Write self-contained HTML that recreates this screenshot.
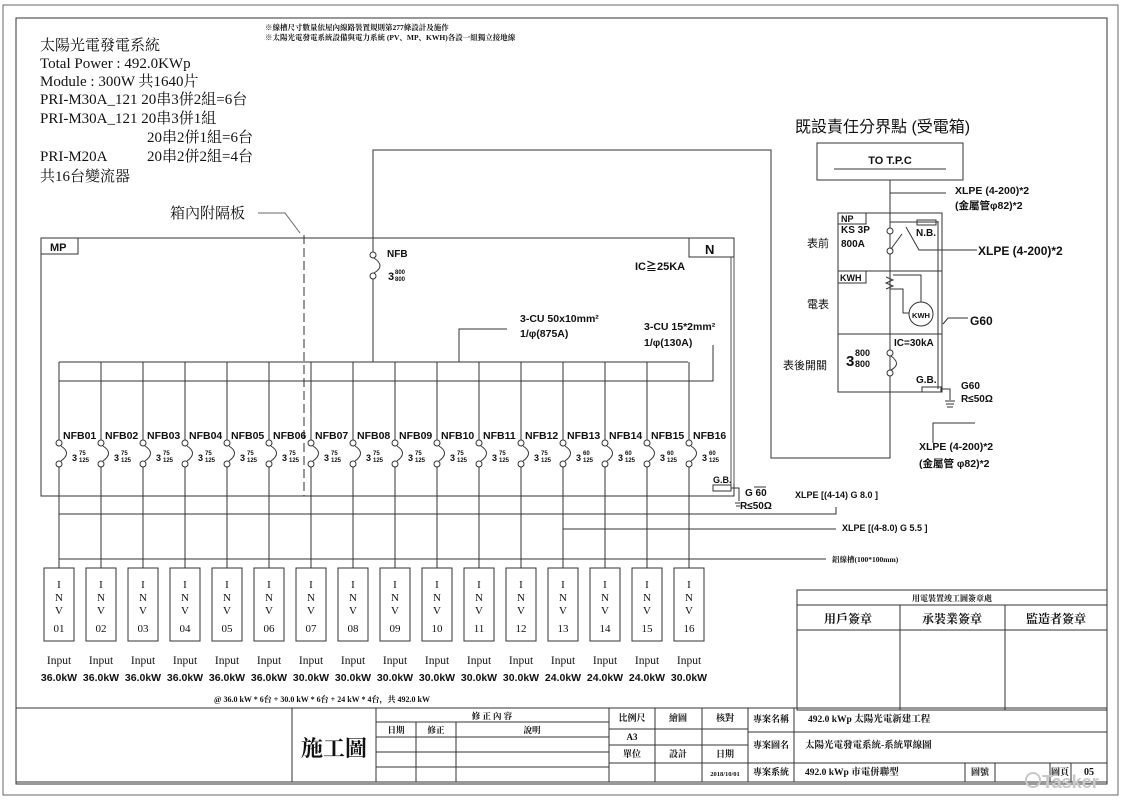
<!DOCTYPE html>
<html><head><meta charset="utf-8"><style>
html,body{margin:0;padding:0;background:#fff;}
svg{display:block;}
text{font-family:"Liberation Sans","Noto Sans CJK TC",sans-serif;fill:#111;}
.s{font-family:"Liberation Serif","Noto Serif CJK SC",serif;}
.m{font-family:"Liberation Serif","Noto Serif CJK SC",serif;font-weight:bold;}
</style></head><body>
<svg width="1121" height="800" viewBox="0 0 1121 800" xmlns="http://www.w3.org/2000/svg" stroke="#333" fill="none" stroke-width="1">
<rect x="3" y="5" width="1115" height="790" stroke="#666"/>
<rect x="16" y="18" width="1091" height="766" stroke="#333"/>

<g stroke="none">
<text class="m" x="265" y="30" font-size="7.5">※線槽尺寸數量依屋內線路裝置規則第277條設計及施作</text>
<text class="m" x="265" y="40" font-size="7.5">※太陽光電發電系統設備與電力系統 (PV、MP、KWH)各設一組獨立接地線</text>
<text class="s" x="40" y="50" font-size="15">太陽光電發電系統</text>
<text class="s" x="40" y="68" font-size="15">Total Power : 492.0KWp</text>
<text class="s" x="40" y="86" font-size="15">Module : 300W 共1640片</text>
<text class="s" x="40" y="104" font-size="15">PRI-M30A_121  20串3併2組=6台</text>
<text class="s" x="40" y="123" font-size="15">PRI-M30A_121  20串3併1組</text>
<text class="s" x="147" y="142" font-size="15">20串2併1組=6台</text>
<text class="s" x="40" y="161" font-size="15">PRI-M20A</text>
<text class="s" x="147" y="161" font-size="15">20串2併2組=4台</text>
<text class="s" x="40" y="181" font-size="15">共16台變流器</text>
<text class="s" x="170" y="218" font-size="15">箱內附隔板</text>
</g>
<path d="M258 213 H285 L300 233" stroke="#666"/>

<rect x="41" y="238" width="693" height="258"/>
<rect x="41" y="238" width="37" height="16"/>
<text x="50" y="251" font-size="11" font-weight="bold" stroke="none">MP</text>
<rect x="689" y="238" width="45" height="19"/>
<text x="705" y="254" font-size="13" font-weight="bold" stroke="none">N</text>
<text x="635" y="270" font-size="11" font-weight="bold" stroke="none">IC≧25KA</text>
<line x1="304" y1="235" x2="304" y2="496" stroke-dasharray="9,4"/>

<path d="M373 362 V276 M373 257 V150 H771 V458 H890 V180"/>
<circle cx="373" cy="255" r="3" fill="#fff"/><circle cx="373" cy="276" r="3" fill="#fff"/>
<path d="M374 258 Q386 266 374 273"/>
<text x="387" y="257" font-size="10" font-weight="bold" stroke="none">NFB</text>
<text x="388" y="280" font-size="11" font-weight="bold" stroke="none">3</text>
<text x="395" y="274" font-size="6" font-weight="bold" stroke="none">800</text>
<text x="395" y="281" font-size="6" font-weight="bold" stroke="none">800</text>

<line x1="59" y1="362" x2="688" y2="362"/>
<path d="M59 381 H713 V345"/>
<path d="M459 362 V329 H507"/>
<text x="520" y="322" font-size="10.5" font-weight="bold" stroke="none">3-CU 50x10mm²</text>
<text x="520" y="337" font-size="10.5" font-weight="bold" stroke="none">1/φ(875A)</text>
<text x="644" y="330" font-size="10.5" font-weight="bold" stroke="none">3-CU 15*2mm²</text>
<text x="644" y="346" font-size="10.5" font-weight="bold" stroke="none">1/φ(130A)</text>
<path d="M731 257 V486 M734 257 V484" stroke="#555"/>

<rect x="713" y="485" width="18" height="6"/>
<text x="713" y="483" font-size="9" font-weight="bold" stroke="none">G.B.</text>
<path d="M731 488 H739 V501"/>
<path d="M735 503 H740 M736 506 H740" />
<text x="745" y="496" font-size="10" font-weight="bold" stroke="none">G 60</text>
<line x1="754" y1="487" x2="766" y2="487"/>
<text x="740" y="509" font-size="10" font-weight="bold" stroke="none">R≤50Ω</text>

<path d="M59 514 H836 V507"/>
<path d="M563 529 H836"/>
<path d="M59 559 H826"/>
<g stroke="none" font-weight="bold">
<text x="795" y="498" font-size="9">XLPE [(4-14)  G 8.0 ]</text>
<text x="842" y="531" font-size="9">XLPE [(4-8.0)  G 5.5 ]</text>
<text class="m" x="832" y="562" font-size="7.5">鋁線槽(100*100mm)</text>
</g>

<g>
<path d="M59 362 V440 M59 467 V568 M101 362 V440 M101 467 V568 M143 362 V440 M143 467 V568 M185 362 V440 M185 467 V568 M227 362 V440 M227 467 V568 M269 362 V440 M269 467 V568 M311 362 V440 M311 467 V568 M353 362 V440 M353 467 V568 M395 362 V440 M395 467 V568 M437 362 V440 M437 467 V568 M479 362 V440 M479 467 V568 M521 362 V440 M521 467 V568 M563 362 V440 M563 467 V568 M605 362 V440 M605 467 V568 M647 362 V440 M647 467 V568 M689 362 V440 M689 467 V568"/>
<g fill="#fff">
<circle cx="59" cy="443" r="3"/><circle cx="59" cy="464" r="3"/>
<circle cx="101" cy="443" r="3"/><circle cx="101" cy="464" r="3"/>
<circle cx="143" cy="443" r="3"/><circle cx="143" cy="464" r="3"/>
<circle cx="185" cy="443" r="3"/><circle cx="185" cy="464" r="3"/>
<circle cx="227" cy="443" r="3"/><circle cx="227" cy="464" r="3"/>
<circle cx="269" cy="443" r="3"/><circle cx="269" cy="464" r="3"/>
<circle cx="311" cy="443" r="3"/><circle cx="311" cy="464" r="3"/>
<circle cx="353" cy="443" r="3"/><circle cx="353" cy="464" r="3"/>
<circle cx="395" cy="443" r="3"/><circle cx="395" cy="464" r="3"/>
<circle cx="437" cy="443" r="3"/><circle cx="437" cy="464" r="3"/>
<circle cx="479" cy="443" r="3"/><circle cx="479" cy="464" r="3"/>
<circle cx="521" cy="443" r="3"/><circle cx="521" cy="464" r="3"/>
<circle cx="563" cy="443" r="3"/><circle cx="563" cy="464" r="3"/>
<circle cx="605" cy="443" r="3"/><circle cx="605" cy="464" r="3"/>
<circle cx="647" cy="443" r="3"/><circle cx="647" cy="464" r="3"/>
<circle cx="689" cy="443" r="3"/><circle cx="689" cy="464" r="3"/>
</g>
<path d="M61 446 Q72 453 61 461 M103 446 Q114 453 103 461 M145 446 Q156 453 145 461 M187 446 Q198 453 187 461 M229 446 Q240 453 229 461 M271 446 Q282 453 271 461 M313 446 Q324 453 313 461 M355 446 Q366 453 355 461 M397 446 Q408 453 397 461 M439 446 Q450 453 439 461 M481 446 Q492 453 481 461 M523 446 Q534 453 523 461 M565 446 Q576 453 565 461 M607 446 Q618 453 607 461 M649 446 Q660 453 649 461 M691 446 Q702 453 691 461"/>
</g>
<g font-weight="bold" stroke="none">
<g font-size="10.5">
<text x="63" y="439">NFB01</text><text x="105" y="439">NFB02</text><text x="147" y="439">NFB03</text><text x="189" y="439">NFB04</text><text x="231" y="439">NFB05</text><text x="273" y="439">NFB06</text><text x="315" y="439">NFB07</text><text x="357" y="439">NFB08</text><text x="399" y="439">NFB09</text><text x="441" y="439">NFB10</text><text x="483" y="439">NFB11</text><text x="525" y="439">NFB12</text><text x="567" y="439">NFB13</text><text x="609" y="439">NFB14</text><text x="651" y="439">NFB15</text><text x="693" y="439">NFB16</text>
</g>
<g font-size="9">
<text x="72" y="461">3</text><text x="114" y="461">3</text><text x="156" y="461">3</text><text x="198" y="461">3</text><text x="240" y="461">3</text><text x="282" y="461">3</text><text x="324" y="461">3</text><text x="366" y="461">3</text><text x="408" y="461">3</text><text x="450" y="461">3</text><text x="492" y="461">3</text><text x="534" y="461">3</text><text x="576" y="461">3</text><text x="618" y="461">3</text><text x="660" y="461">3</text><text x="702" y="461">3</text>
</g>
<g font-size="6">
<text x="79" y="455">75</text><text x="79" y="462">125</text><text x="121" y="455">75</text><text x="121" y="462">125</text><text x="163" y="455">75</text><text x="163" y="462">125</text><text x="205" y="455">75</text><text x="205" y="462">125</text><text x="247" y="455">75</text><text x="247" y="462">125</text><text x="289" y="455">75</text><text x="289" y="462">125</text><text x="331" y="455">75</text><text x="331" y="462">125</text><text x="373" y="455">75</text><text x="373" y="462">125</text><text x="415" y="455">75</text><text x="415" y="462">125</text><text x="457" y="455">75</text><text x="457" y="462">125</text><text x="499" y="455">75</text><text x="499" y="462">125</text><text x="541" y="455">75</text><text x="541" y="462">125</text><text x="583" y="455">60</text><text x="583" y="462">125</text><text x="625" y="455">60</text><text x="625" y="462">125</text><text x="667" y="455">60</text><text x="667" y="462">125</text><text x="709" y="455">60</text><text x="709" y="462">125</text>
</g>
</g>

<g>
<rect x="44" y="568" width="30" height="73"/><rect x="86" y="568" width="30" height="73"/><rect x="128" y="568" width="30" height="73"/><rect x="170" y="568" width="30" height="73"/><rect x="212" y="568" width="30" height="73"/><rect x="254" y="568" width="30" height="73"/><rect x="296" y="568" width="30" height="73"/><rect x="338" y="568" width="30" height="73"/><rect x="380" y="568" width="30" height="73"/><rect x="422" y="568" width="30" height="73"/><rect x="464" y="568" width="30" height="73"/><rect x="506" y="568" width="30" height="73"/><rect x="548" y="568" width="30" height="73"/><rect x="590" y="568" width="30" height="73"/><rect x="632" y="568" width="30" height="73"/><rect x="674" y="568" width="30" height="73"/>
</g>
<g class="s" stroke="none" font-size="11" text-anchor="middle">
<text class="s" x="59" y="588">I</text><text class="s" x="59" y="601">N</text><text class="s" x="59" y="614">V</text><text class="s" x="59" y="632">01</text>
<text class="s" x="101" y="588">I</text><text class="s" x="101" y="601">N</text><text class="s" x="101" y="614">V</text><text class="s" x="101" y="632">02</text>
<text class="s" x="143" y="588">I</text><text class="s" x="143" y="601">N</text><text class="s" x="143" y="614">V</text><text class="s" x="143" y="632">03</text>
<text class="s" x="185" y="588">I</text><text class="s" x="185" y="601">N</text><text class="s" x="185" y="614">V</text><text class="s" x="185" y="632">04</text>
<text class="s" x="227" y="588">I</text><text class="s" x="227" y="601">N</text><text class="s" x="227" y="614">V</text><text class="s" x="227" y="632">05</text>
<text class="s" x="269" y="588">I</text><text class="s" x="269" y="601">N</text><text class="s" x="269" y="614">V</text><text class="s" x="269" y="632">06</text>
<text class="s" x="311" y="588">I</text><text class="s" x="311" y="601">N</text><text class="s" x="311" y="614">V</text><text class="s" x="311" y="632">07</text>
<text class="s" x="353" y="588">I</text><text class="s" x="353" y="601">N</text><text class="s" x="353" y="614">V</text><text class="s" x="353" y="632">08</text>
<text class="s" x="395" y="588">I</text><text class="s" x="395" y="601">N</text><text class="s" x="395" y="614">V</text><text class="s" x="395" y="632">09</text>
<text class="s" x="437" y="588">I</text><text class="s" x="437" y="601">N</text><text class="s" x="437" y="614">V</text><text class="s" x="437" y="632">10</text>
<text class="s" x="479" y="588">I</text><text class="s" x="479" y="601">N</text><text class="s" x="479" y="614">V</text><text class="s" x="479" y="632">11</text>
<text class="s" x="521" y="588">I</text><text class="s" x="521" y="601">N</text><text class="s" x="521" y="614">V</text><text class="s" x="521" y="632">12</text>
<text class="s" x="563" y="588">I</text><text class="s" x="563" y="601">N</text><text class="s" x="563" y="614">V</text><text class="s" x="563" y="632">13</text>
<text class="s" x="605" y="588">I</text><text class="s" x="605" y="601">N</text><text class="s" x="605" y="614">V</text><text class="s" x="605" y="632">14</text>
<text class="s" x="647" y="588">I</text><text class="s" x="647" y="601">N</text><text class="s" x="647" y="614">V</text><text class="s" x="647" y="632">15</text>
<text class="s" x="689" y="588">I</text><text class="s" x="689" y="601">N</text><text class="s" x="689" y="614">V</text><text class="s" x="689" y="632">16</text>
</g>
<g stroke="none" text-anchor="middle">
<g font-size="11.5">
<text class="s" x="59" y="664">Input</text><text class="s" x="101" y="664">Input</text><text class="s" x="143" y="664">Input</text><text class="s" x="185" y="664">Input</text><text class="s" x="227" y="664">Input</text><text class="s" x="269" y="664">Input</text><text class="s" x="311" y="664">Input</text><text class="s" x="353" y="664">Input</text><text class="s" x="395" y="664">Input</text><text class="s" x="437" y="664">Input</text><text class="s" x="479" y="664">Input</text><text class="s" x="521" y="664">Input</text><text class="s" x="563" y="664">Input</text><text class="s" x="605" y="664">Input</text><text class="s" x="647" y="664">Input</text><text class="s" x="689" y="664">Input</text>
</g>
<g font-size="10.5" font-weight="bold">
<text x="59" y="681">36.0kW</text><text x="101" y="681">36.0kW</text><text x="143" y="681">36.0kW</text><text x="185" y="681">36.0kW</text><text x="227" y="681">36.0kW</text><text x="269" y="681">36.0kW</text><text x="311" y="681">30.0kW</text><text x="353" y="681">30.0kW</text><text x="395" y="681">30.0kW</text><text x="437" y="681">30.0kW</text><text x="479" y="681">30.0kW</text><text x="521" y="681">30.0kW</text><text x="563" y="681">24.0kW</text><text x="605" y="681">24.0kW</text><text x="647" y="681">24.0kW</text><text x="689" y="681">30.0kW</text>
</g>
<text class="m" x="322" y="702" font-size="8">@ 36.0 kW * 6台 + 30.0 kW * 6台 + 24 kW * 4台，共 492.0 kW</text>
</g>

<text x="795" y="132" font-size="16" stroke="none">既設責任分界點 (受電箱)</text>
<rect x="817" y="143" width="146" height="37"/>
<line x1="834" y1="169" x2="946" y2="169"/>
<text x="890" y="164" font-size="11" font-weight="bold" text-anchor="middle" stroke="none">TO T.P.C</text>
<path d="M890 193 H946"/>
<text x="955" y="194" font-size="10.5" font-weight="bold" stroke="none">XLPE (4-200)*2</text>
<text x="955" y="209" font-size="10.5" font-weight="bold" stroke="none">(金屬管φ82)*2</text>
<rect x="838" y="213" width="104" height="179"/>
<line x1="938" y1="221" x2="938" y2="389"/>
<path d="M838 271 H942 M838 334 H942"/>
<rect x="838" y="213" width="28" height="11"/>
<rect x="838" y="271" width="28" height="12"/>
<g font-weight="bold" stroke="none">
<text x="841" y="222" font-size="9">NP</text>
<text x="841" y="233" font-size="10">KS 3P</text>
<text x="841" y="247" font-size="10">800A</text>
<text x="840" y="281" font-size="9">KWH</text>
<text x="894" y="346" font-size="10">IC=30kA</text>
<text x="846" y="366" font-size="15">3</text>
<text x="855" y="356" font-size="9">800</text>
<text x="855" y="367" font-size="9">800</text>
<text x="916" y="236" font-size="10">N.B.</text>
<text x="916" y="383" font-size="10">G.B.</text>
<text x="961" y="389" font-size="10">G60</text>
<text x="961" y="402" font-size="10">R≤50Ω</text>
<text x="970" y="325" font-size="12">G60</text>
<text x="978" y="255" font-size="12">XLPE (4-200)*2</text>
<text x="919" y="450" font-size="10.5">XLPE (4-200)*2</text>
<text x="919" y="467" font-size="10.5">(金屬管 φ82)*2</text>
</g>
<g stroke="none" font-size="11">
<text x="807" y="247">表前</text>
<text x="807" y="308">電表</text>
<text x="783" y="369">表後開關</text>
</g>
<path d="M890 222 H938"/>
<rect x="917" y="220" width="19" height="5"/>
<circle cx="890" cy="231" r="3" fill="#fff"/><circle cx="890" cy="251" r="3" fill="#fff"/>
<path d="M891 249 L902 234"/>
<path d="M906 227 L919 250 H977"/>
<path d="M886 277 L893 280 L886 283 L893 286 L886 289"/>
<path d="M893 275 H921 V302 M890 289 H903 V313 H909"/>
<circle cx="921" cy="314" r="12" fill="#fff"/>
<text x="921" y="318" font-size="7.5" font-weight="bold" text-anchor="middle" stroke="none">KWH</text>
<path d="M943 324 L948 318 H968"/>
<circle cx="890" cy="353" r="3" fill="#fff"/><circle cx="890" cy="373" r="3" fill="#fff"/>
<path d="M891 356 Q902 364 891 370"/>
<rect x="922" y="387" width="19" height="5"/>
<path d="M941 389 H950 V400 M945 401 H955 M946 404 H954 M947 407 H953"/>
<path d="M933 443 V423 H975"/>

<rect x="797" y="590" width="310" height="120"/>
<path d="M797 605 H1107 M797 630 H1107 M900 605 V710 M1005 605 V710"/>
<g stroke="none" text-anchor="middle">
<text class="m" x="952" y="601" font-size="8">用電裝置竣工圖簽章處</text>
<text class="m" x="848" y="623" font-size="12">用戶簽章</text>
<text class="m" x="952" y="623" font-size="12">承裝業簽章</text>
<text class="m" x="1056" y="623" font-size="12">監造者簽章</text>
</g>

<path d="M16 708 H1107 V782"/>
<path d="M292 708 V782 M376 708 V782 M416 722 V782 M456 722 V782 M609 708 V782"/>
<path d="M376 722 H609 M376 737 H609 M376 752 H609 M376 767 H609"/>
<path d="M655 708 V782 M702 708 V782 M748 708 V782 M794 708 V782"/>
<path d="M609 729 H748 M609 745 H748 M609 763 H748"/>
<path d="M748 732 H1107 M748 763 H1107"/>
<path d="M965 763 V782 M995 763 V782 M1050 763 V782 M1071 763 V782"/>
<line x1="16" y1="782" x2="1107" y2="782"/>
<g stroke="none">
<text class="m" x="334" y="756" font-size="22" text-anchor="middle">施工圖</text>
<text class="m" x="492" y="719" font-size="8.5" text-anchor="middle">修 正 內 容</text>
<text class="m" x="396" y="733" font-size="8.5" text-anchor="middle">日期</text>
<text class="m" x="436" y="733" font-size="8.5" text-anchor="middle">修正</text>
<text class="m" x="532" y="733" font-size="8.5" text-anchor="middle">說明</text>
<text class="m" x="632" y="721" font-size="9" text-anchor="middle">比例尺</text>
<text class="m" x="678" y="721" font-size="9" text-anchor="middle">繪圖</text>
<text class="m" x="725" y="721" font-size="9" text-anchor="middle">核對</text>
<text class="m" x="632" y="740" font-size="9" text-anchor="middle">A3</text>
<text class="m" x="632" y="757" font-size="9" text-anchor="middle">單位</text>
<text class="m" x="678" y="757" font-size="9" text-anchor="middle">設計</text>
<text class="m" x="725" y="757" font-size="9" text-anchor="middle">日期</text>
<text class="m" x="725" y="776" font-size="6.5" text-anchor="middle">2018/10/01</text>
<text class="m" x="771" y="722" font-size="9" text-anchor="middle">專案名稱</text>
<text class="m" x="771" y="748" font-size="9" text-anchor="middle">專案圖名</text>
<text class="m" x="771" y="775" font-size="9" text-anchor="middle">專案系統</text>
<text class="m" x="808" y="722" font-size="9.5">492.0 kWp 太陽光電新建工程</text>
<text class="m" x="805" y="748" font-size="9.5">太陽光電發電系統-系統單線圖</text>
<text class="m" x="805" y="775" font-size="9.5">492.0 kWp 市電併聯型</text>
<text class="m" x="980" y="775" font-size="9" text-anchor="middle">圖號</text>
<text class="m" x="1060" y="775" font-size="9" text-anchor="middle">圖頁</text>
<text class="m" x="1089" y="775" font-size="10" text-anchor="middle">05</text>
</g>
<circle cx="1033" cy="780" r="7" stroke="#c8c8c8" stroke-width="2"/>
<text x="1042" y="788" font-size="18" font-weight="bold" stroke="none" style="fill:#c8c8c8">Tasker</text>
</svg>
</body></html>
